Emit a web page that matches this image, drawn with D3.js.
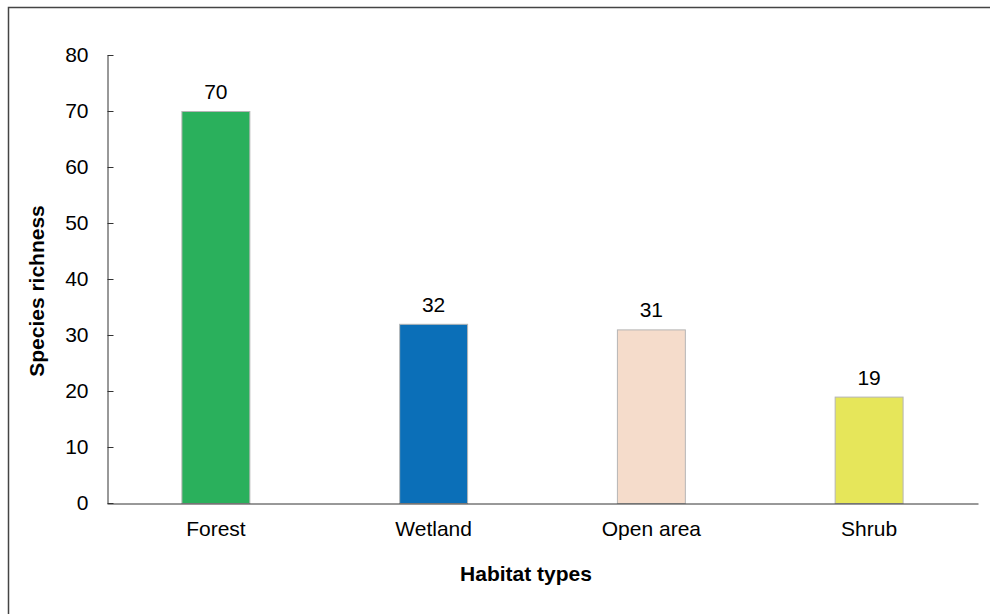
<!DOCTYPE html>
<html>
<head>
<meta charset="utf-8">
<script src="https://cdn.jsdelivr.net/npm/d3@7"></script>
<style>
  html, body { margin: 0; padding: 0; background: #fff; }
  svg { display: block; font-family: "Liberation Sans", Arial, sans-serif; }
</style>
</head>
<body>
<svg id="chart" width="990" height="614"></svg>
<script>
// Species richness by habitat type
const habitats = ["Forest", "Wetland", "Open area", "Shrub"];
const richness = [70, 32, 31, 19];
const barColors = ["#2ab05c", "#0b6fb8", "#f5dccb", "#e6e65a"];
const yTicks = [0, 10, 20, 30, 40, 50, 60, 70, 80];

const svg = d3.select("#chart");
const margin = { left: 107, right: 12, top: 55, bottom: 111 };
const W = 990, H = 614;
const FONT = 21;

// outer frame (open on the right and bottom edges)
svg.append("path")
  .attr("d", "M8.5,614 L8.5,7.5 L990,7.5")
  .attr("fill", "none")
  .attr("stroke", "#444")
  .attr("stroke-width", 1.5);

const x = d3.scaleBand()
  .domain(habitats)
  .range([margin.left, W - margin.right])
  .paddingInner(0.688)
  .paddingOuter(0.344);

const y = d3.scaleLinear()
  .domain([0, 80])
  .range([H - margin.bottom, margin.top]);

const data = habitats.map((h, i) => ({ h, v: richness[i], c: barColors[i] }));

// bars
svg.append("g").selectAll("rect")
  .data(data)
  .join("rect")
  .attr("x", d => x(d.h))
  .attr("y", d => y(d.v) + 0.5)
  .attr("width", x.bandwidth())
  .attr("height", d => y(0) - y(d.v))
  .attr("fill", d => d.c)
  .attr("stroke", "#b5b5b5")
  .attr("stroke-width", 1);

// value labels
svg.append("g").selectAll("text")
  .data(data)
  .join("text")
  .attr("x", d => x(d.h) + x.bandwidth() / 2)
  .attr("y", d => y(d.v) - 12)
  .attr("text-anchor", "middle")
  .attr("font-size", FONT)
  .attr("fill", "#000")
  .text(d => d.v);

// y axis
const yAxis = svg.append("g")
  .attr("transform", `translate(${margin.left + 0.5},0)`)
  .call(d3.axisLeft(y).tickValues(yTicks).tickSize(-6).tickPadding(19).tickSizeOuter(0));
yAxis.select(".domain").attr("stroke", "#333");
yAxis.selectAll(".tick line").attr("stroke", "#333");
yAxis.selectAll("text").attr("font-size", FONT).attr("fill", "#000")
  .attr("font-family", "'Liberation Sans', Arial, sans-serif");

// x axis
const xAxis = svg.append("g")
  .attr("transform", `translate(0,${y(0) + 0.5})`)
  .call(d3.axisBottom(x).tickSize(0).tickPadding(18).tickSizeOuter(0));
xAxis.select(".domain").attr("stroke", "#333");
xAxis.selectAll("text").attr("font-size", FONT).attr("fill", "#000")
  .attr("font-family", "'Liberation Sans', Arial, sans-serif");

// axis titles
svg.append("text")
  .attr("x", 526)
  .attr("y", 581)
  .attr("text-anchor", "middle")
  .attr("font-size", FONT)
  .attr("font-weight", "bold")
  .text("Habitat types");

svg.append("text")
  .attr("transform", `translate(44,${(y(0) + y(80)) / 2 + 12}) rotate(-90)`)
  .attr("text-anchor", "middle")
  .attr("font-size", FONT)
  .attr("font-weight", "bold")
  .text("Species richness");
</script>
</body>
</html>
